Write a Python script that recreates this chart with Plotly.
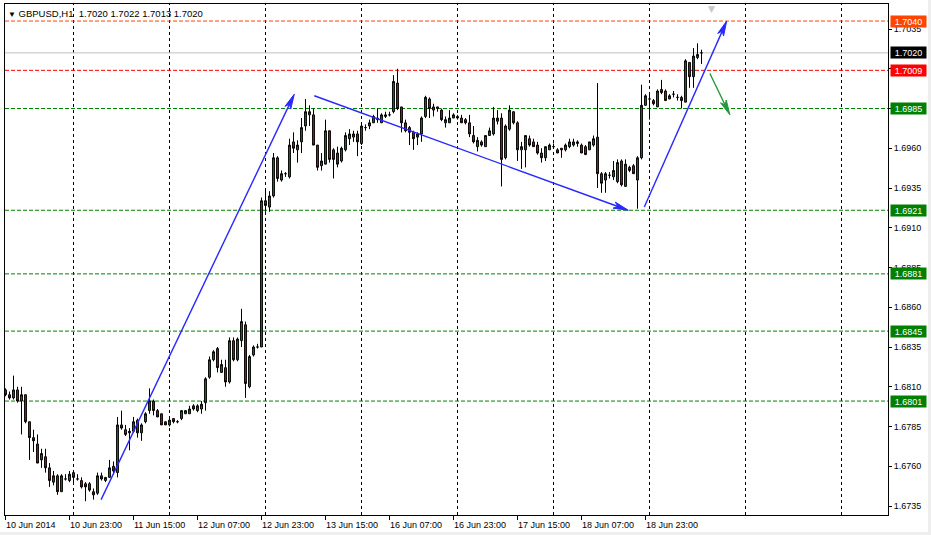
import math
from datetime import datetime, timedelta
import plotly.graph_objects as go

# ---------------- data (GBPUSD H1) ----------------
symbol = "GBPUSD,H1"
first_bar_time = datetime(2014, 6, 10, 7)

opens = [1.6808,1.6805,1.6803,1.6808,1.6801,1.6805,1.6788,1.6778,1.6774,1.6764,
 1.6766,1.6759,1.6750,1.6754,1.6744,1.6752,1.6751,1.6756,1.6752,1.6751,
 1.6749,1.6749,1.6744,1.6743,1.6754,1.6751,1.6753,1.6760,1.6756,1.6786,
 1.6783,1.6781,1.6782,1.6789,1.6781,1.6788,1.6795,1.6801,1.6795,1.6793,
 1.6788,1.6786,1.6790,1.6788,1.6790,1.6793,1.6793,1.6798,1.6795,1.6796,
 1.6800,1.6816,1.6827,1.6834,1.6819,1.6822,1.6813,1.6839,1.6827,1.6839,
 1.6849,1.6810,1.6830,1.6835,1.6835,1.6927,1.6923,1.6930,1.6954,1.6940,
 1.6944,1.6942,1.6964,1.6959,1.6964,1.6974,1.6981,1.6981,1.6962,1.6949,
 1.6950,1.6971,1.6959,1.6957,1.6952,1.6959,1.6966,1.6967,1.6969,1.6963,
 1.6973,1.6974,1.6976,1.6978,1.6976,1.6980,1.6981,1.6983,1.7001,1.6986,
 1.6976,1.6973,1.6970,1.6967,1.6969,1.6980,1.6991,1.6984,1.6986,1.6984,
 1.6976,1.6976,1.6979,1.6980,1.6979,1.6978,1.6976,1.6968,1.6961,1.6964,
 1.6961,1.6968,1.6969,1.6977,1.6979,1.6954,1.6972,1.6983,1.6976,1.6959,
 1.6959,1.6966,1.6964,1.6962,1.6957,1.6954,1.6959,1.6961,1.6959,1.6960,
 1.6959,1.6961,1.6962,1.6963,1.6962,1.6961,1.6959,1.6962,1.6967,1.6944,
 1.6940,1.6943,1.6942,1.6939,1.6952,1.6936,1.6948,1.6949,1.6940,1.6954,
 1.6987,1.6991,1.6990,1.6986,1.6997,1.6996,1.6991,1.6994,1.6992,1.6992,
 1.6989,1.7014,1.7005,1.7017,1.7020]

highs = [1.6809,1.6807,1.6817,1.6810,1.6810,1.6805,1.6788,1.6783,1.6780,1.6771,
 1.6771,1.6762,1.6757,1.6755,1.6755,1.6755,1.6757,1.6757,1.6755,1.6753,
 1.6750,1.6750,1.6746,1.6756,1.6756,1.6753,1.6764,1.6763,1.6791,1.6795,
 1.6786,1.6784,1.6791,1.6790,1.6787,1.6794,1.6809,1.6802,1.6796,1.6793,
 1.6788,1.6790,1.6790,1.6789,1.6795,1.6795,1.6798,1.6799,1.6799,1.6801,
 1.6816,1.6829,1.6833,1.6835,1.6827,1.6827,1.6841,1.6841,1.6841,1.6859,
 1.6851,1.6830,1.6836,1.6837,1.6929,1.6935,1.6933,1.6957,1.6955,1.6946,
 1.6945,1.6966,1.6970,1.6965,1.6979,1.6991,1.6987,1.6985,1.6962,1.6957,
 1.6978,1.6971,1.6960,1.6961,1.6961,1.6970,1.6972,1.6971,1.6971,1.6975,
 1.6975,1.6978,1.6981,1.6985,1.6982,1.6983,1.6983,1.7006,1.7010,1.6986,
 1.6978,1.6974,1.6971,1.6970,1.6980,1.6993,1.6992,1.6988,1.6986,1.6985,
 1.6980,1.6984,1.6982,1.6981,1.6981,1.6979,1.6981,1.6974,1.6967,1.6965,
 1.6968,1.6973,1.6986,1.6984,1.6982,1.6975,1.6987,1.6983,1.6977,1.6964,
 1.6968,1.6968,1.6966,1.6964,1.6960,1.6961,1.6963,1.6963,1.6960,1.6960,
 1.6963,1.6966,1.6966,1.6965,1.6963,1.6962,1.6964,1.6968,1.7001,1.6945,
 1.6945,1.6945,1.6952,1.6953,1.6953,1.6953,1.6949,1.6950,1.6955,1.7000,
 1.6994,1.6994,1.6991,1.6997,1.7003,1.6997,1.6994,1.6996,1.6994,1.6993,
 1.7016,1.7014,1.7023,1.7026,1.7022]

lows = [1.6804,1.6802,1.6802,1.6800,1.6780,1.6787,1.6764,1.6769,1.6762,1.6759,
 1.6756,1.6747,1.6748,1.6742,1.6744,1.6751,1.6750,1.6750,1.6751,1.6746,
 1.6738,1.6744,1.6739,1.6742,1.6751,1.6750,1.6753,1.6755,1.6753,1.6783,
 1.6779,1.6770,1.6781,1.6778,1.6776,1.6787,1.6793,1.6792,1.6791,1.6786,
 1.6786,1.6785,1.6787,1.6787,1.6789,1.6793,1.6793,1.6795,1.6794,1.6793,
 1.6795,1.6815,1.6826,1.6819,1.6819,1.6810,1.6812,1.6826,1.6826,1.6835,
 1.6803,1.6809,1.6829,1.6834,1.6835,1.6920,1.6920,1.6929,1.6939,1.6939,
 1.6942,1.6941,1.6957,1.6951,1.6957,1.6971,1.6974,1.6962,1.6946,1.6946,
 1.6950,1.6951,1.6941,1.6948,1.6951,1.6958,1.6962,1.6964,1.6955,1.6962,
 1.6971,1.6972,1.6976,1.6976,1.6976,1.6979,1.6980,1.6982,1.6984,1.6970,
 1.6970,1.6962,1.6959,1.6962,1.6964,1.6979,1.6979,1.6980,1.6983,1.6977,
 1.6973,1.6976,1.6979,1.6978,1.6976,1.6975,1.6967,1.6963,1.6958,1.6961,
 1.6961,1.6968,1.6968,1.6975,1.6936,1.6953,1.6971,1.6975,1.6952,1.6947,
 1.6948,1.6961,1.6961,1.6956,1.6951,1.6952,1.6959,1.6960,1.6957,1.6954,
 1.6958,1.6960,1.6961,1.6961,1.6957,1.6956,1.6959,1.6961,1.6935,1.6932,
 1.6932,1.6941,1.6940,1.6938,1.6936,1.6936,1.6945,1.6944,1.6922,1.6953,
 1.6987,1.6978,1.6987,1.6986,1.6994,1.6990,1.6991,1.6992,1.6990,1.6985,
 1.6989,1.6998,1.6998,1.7016,1.7013]

closes = [1.6805,1.6803,1.6808,1.6801,1.6805,1.6788,1.6778,1.6776,1.6762,1.6768,
 1.6759,1.6751,1.6754,1.6744,1.6754,1.6752,1.6755,1.6753,1.6752,1.6747,
 1.6747,1.6745,1.6742,1.6754,1.6752,1.6753,1.6759,1.6757,1.6786,1.6784,
 1.6780,1.6782,1.6788,1.6781,1.6786,1.6793,1.6801,1.6795,1.6791,1.6786,
 1.6786,1.6789,1.6788,1.6788,1.6795,1.6795,1.6796,1.6796,1.6798,1.6799,
 1.6815,1.6827,1.6832,1.6822,1.6824,1.6813,1.6839,1.6827,1.6840,1.6851,
 1.6812,1.6829,1.6835,1.6835,1.6927,1.6924,1.6930,1.6954,1.6941,1.6944,
 1.6944,1.6962,1.6960,1.6962,1.6973,1.6983,1.6983,1.6962,1.6948,1.6952,
 1.6971,1.6953,1.6953,1.6950,1.6960,1.6968,1.6969,1.6969,1.6964,1.6974,
 1.6973,1.6976,1.6980,1.6979,1.6981,1.6981,1.6981,1.7002,1.6985,1.6976,
 1.6971,1.6970,1.6966,1.6969,1.6979,1.6992,1.6985,1.6986,1.6985,1.6978,
 1.6978,1.6979,1.6981,1.6979,1.6976,1.6976,1.6969,1.6964,1.6965,1.6962,
 1.6968,1.6971,1.6979,1.6979,1.6953,1.6974,1.6984,1.6976,1.6959,1.6961,
 1.6968,1.6962,1.6961,1.6957,1.6954,1.6961,1.6962,1.6961,1.6957,1.6959,
 1.6962,1.6964,1.6964,1.6964,1.6957,1.6956,1.6964,1.6966,1.6944,1.6938,
 1.6944,1.6943,1.6946,1.6951,1.6937,1.6950,1.6946,1.6944,1.6954,1.6987,
 1.6993,1.6991,1.6988,1.6996,1.6995,1.6990,1.6993,1.6994,1.6992,1.6990,
 1.7015,1.7005,1.7018,1.7019,1.7020]

x_tick_labels = ["10 Jun 2014", "10 Jun 23:00", "11 Jun 15:00", "12 Jun 07:00",
                 "12 Jun 23:00", "13 Jun 15:00", "16 Jun 07:00", "16 Jun 23:00",
                 "17 Jun 15:00", "18 Jun 07:00", "18 Jun 23:00"]
x_tick_step = 16

y_tick_values = [1.6735, 1.6760, 1.6785, 1.6810, 1.6835, 1.6860, 1.6885,
                 1.6910, 1.6935, 1.6960, 1.6985, 1.7010, 1.7035]

level_prices = [1.7040, 1.7009, 1.6985, 1.6921, 1.6881, 1.6845, 1.6801]
level_colors = ["#FF4500", "#FF0000", "#008000", "#008000", "#008000", "#008000", "#008000"]

# analyst arrows: start (bar index, price) -> end (bar index, price)
arrow_start_bar = [23.9, 77.2, 159.7, 176.1]
arrow_start_price = [1.6739, 1.6993, 1.6923, 1.7007]
arrow_end_bar = [72.2, 155.7, 180.3, 181.1]
arrow_end_price = [1.6994, 1.6921, 1.7040, 1.6981]
arrow_colors = ["#2828FF", "#2828FF", "#2828FF", "#22993A"]

# ---------------- layout geometry ----------------
W, H = 931, 535
ML, MR, MT, MB = 5, 43, 4, 20
PW, PH = W - ML - MR, H - MT - MB
XR = [-0.125, 220.625]
YR = [1.672934, 1.705072]
sx = PW / (XR[1] - XR[0])
sy = PH / (YR[1] - YR[0])
FONT = "Liberation Sans, Arial, DejaVu Sans"

n = len(closes)
idx = list(range(n))

# bar times (no weekend bars), used for the day separators
times = []
t = first_bar_time
while len(times) < int(XR[1]) + 2:
    if t.weekday() < 5:
        times.append(t)
    t += timedelta(hours=1)
day_starts = [i for i, tt in enumerate(times) if tt.hour == 0 and i > 0]

fig = go.Figure()
fig.add_trace(go.Candlestick(
    x=idx, open=opens, high=highs, low=lows, close=closes,
    increasing=dict(line=dict(color="black", width=1), fillcolor="#0A8A0A"),
    decreasing=dict(line=dict(color="black", width=1), fillcolor="#F00000"),
    whiskerwidth=0, hoverinfo="skip", showlegend=False,
))

shapes = []
for d in day_starts:
    shapes.append(dict(type="line", xref="x", yref="paper", x0=d, x1=d, y0=0, y1=1,
                       line=dict(color="black", width=1, dash="3px,3px"), layer="below"))
for p, c in zip(level_prices, level_colors):
    shapes.append(dict(type="line", xref="paper", yref="y", x0=0, x1=1, y0=p, y1=p,
                       line=dict(color=c, width=1, dash="4px,2px"), layer="below"))
last_price = closes[-1]
shapes.append(dict(type="line", xref="paper", yref="y", x0=0, x1=1, y0=last_price, y1=last_price,
                   line=dict(color="#C0C0C0", width=1), layer="below"))

# arrows (line + narrow notched head)
HEAD_L, HEAD_W, NOTCH = 15, 3.2, 4
for x0, p0, x1, p1, c in zip(arrow_start_bar, arrow_start_price, arrow_end_bar, arrow_end_price, arrow_colors):
    dxp = (x1 - x0) * sx
    dyp = (p1 - p0) * sy
    L = math.hypot(dxp, dyp)
    ux, uy = dxp / L, dyp / L
    nx, ny = -uy, ux
    def pt(ox, oy):
        return x1 + ox / sx, p1 + oy / sy
    bx, by = -ux * HEAD_L, -uy * HEAD_L
    a = pt(bx + nx * HEAD_W, by + ny * HEAD_W)
    b = pt(-ux * (HEAD_L - NOTCH), -uy * (HEAD_L - NOTCH))
    cpt = pt(bx - nx * HEAD_W, by - ny * HEAD_W)
    shapes.append(dict(type="line", xref="x", yref="y", x0=x0, y0=p0, x1=b[0], y1=b[1],
                       line=dict(color=c, width=1.4)))
    path = f"M {x1},{p1} L {a[0]},{a[1]} L {b[0]},{b[1]} L {cpt[0]},{cpt[1]} Z"
    shapes.append(dict(type="path", xref="x", yref="y", path=path, fillcolor=c,
                       line=dict(color=c, width=1)))

# window edge (light grey frame at right / bottom)
def px_to_paper_x(px):
    return (px - ML) / PW
def py_to_paper_y(py):
    return (H - MB - py) / PH
shapes.append(dict(type="rect", xref="paper", yref="paper",
                   x0=px_to_paper_x(928), x1=px_to_paper_x(935),
                   y0=py_to_paper_y(540), y1=py_to_paper_y(-5),
                   fillcolor="#EEEEEE", line=dict(width=0)))
shapes.append(dict(type="rect", xref="paper", yref="paper",
                   x0=px_to_paper_x(-5), x1=px_to_paper_x(935),
                   y0=py_to_paper_y(540), y1=py_to_paper_y(532),
                   fillcolor="#EEEEEE", line=dict(width=0)))

annotations = []
# title
annotations.append(dict(
    xref="paper", yref="paper", x=0, y=1, xanchor="left", yanchor="top",
    xshift=1, yshift=-2, showarrow=False,
    text=(f"<span style='font-size:8px'>▼</span> {symbol}&nbsp;&nbsp;"
          f"{opens[-1]:.4f} {highs[-1]:.4f} {lows[-1]:.4f} {closes[-1]:.4f}"),
    font=dict(family=FONT, size=9.5, color="black")))

# x tick labels (left aligned at tick, MT4 style)
tick_idx = [k * x_tick_step for k in range(len(x_tick_labels))]
for ti, lab in zip(tick_idx, x_tick_labels):
    annotations.append(dict(xref="x", yref="paper", x=ti, y=0, xanchor="left", yanchor="top",
                            xshift=-2, yshift=-3, showarrow=False, text=lab,
                            font=dict(family=FONT, size=9, color="black")))

# price boxes on the right axis
boxes = list(zip(level_prices, level_colors)) + [(last_price, "#000000")]
for p, c in boxes:
    annotations.append(dict(xref="paper", yref="y", x=1, y=p, xanchor="left", yanchor="middle",
                            xshift=2, showarrow=False, text=f"{p:.4f}", bgcolor=c,
                            width=33, height=9, borderpad=1, align="center",
                            font=dict(family=FONT, size=9, color="white")))

# chart-shift marker
annotations.append(dict(xref="x", yref="paper", x=n + 1.6, y=1, yanchor="top", showarrow=False,
                        text="▼", yshift=2, font=dict(family="DejaVu Sans", size=9, color="#C8C8C8")))

fig.update_layout(
    width=W, height=H, margin=dict(l=ML, r=MR, t=MT, b=MB),
    paper_bgcolor="white", plot_bgcolor="white",
    shapes=shapes, annotations=annotations, showlegend=False,
    hovermode=False, boxgap=0.35,
    xaxis=dict(range=XR, rangeslider=dict(visible=False), showgrid=False, zeroline=False,
               showline=True, linecolor="black", linewidth=1, mirror=True,
               ticks="outside", ticklen=4, tickcolor="black", tickvals=tick_idx,
               showticklabels=False, fixedrange=True),
    yaxis=dict(range=YR, side="right", showgrid=False, zeroline=False,
               showline=True, linecolor="black", linewidth=1, mirror=True,
               ticks="outside", ticklen=3, tickcolor="black",
               tickvals=y_tick_values, ticktext=[f"{v:.4f}" for v in y_tick_values],
               tickfont=dict(family=FONT, size=9, color="black"), fixedrange=True),
)

fig.write_html("out.html", config={"displayModeBar": False},
               post_script="document.body.style.margin='0';document.body.style.padding='0';")
